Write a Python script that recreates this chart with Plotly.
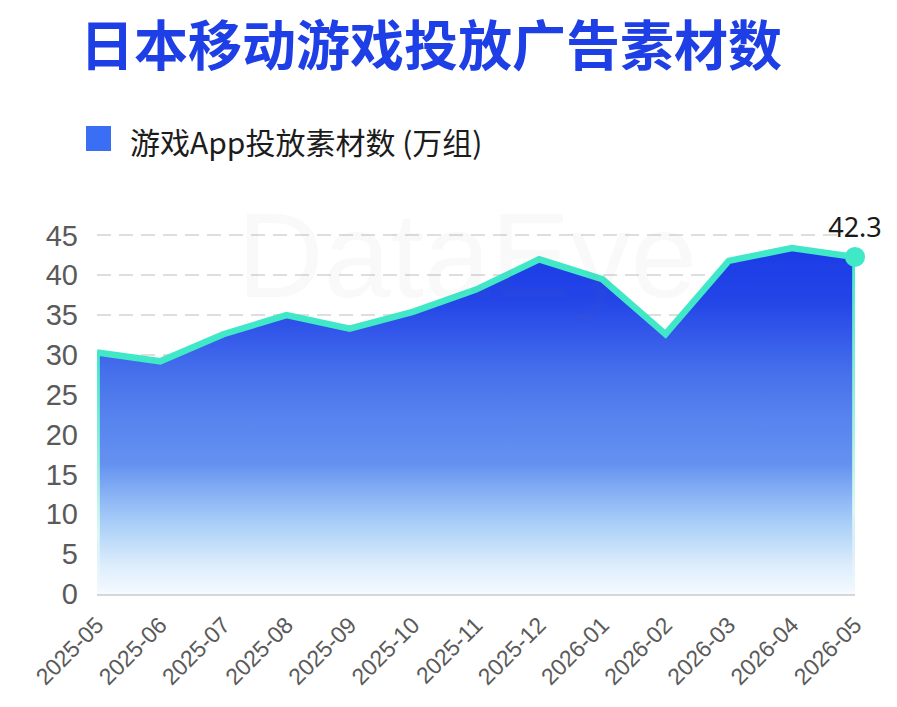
import plotly.graph_objects as go

# ---------------- data ----------------
months = ["2025-05", "2025-06", "2025-07", "2025-08", "2025-09", "2025-10", "2025-11",
          "2025-12", "2026-01", "2026-02", "2026-03", "2026-04", "2026-05"]
values = [30.3, 29.2, 32.6, 35.0, 33.3, 35.4, 38.2, 42.0, 39.5, 32.6, 41.8, 43.4, 42.3]
y_ticks = [0, 5, 10, 15, 20, 25, 30, 35, 40, 45]
series_name = "游戏App投放素材数 (万组)"
title_text = "日本移动游戏投放广告素材数"

# ---------------- style ----------------
W, H = 897, 707
ML, MR, MT, MB = 97, 42, 233, 113
LINE = "#40E8C8"
TITLE_BLUE = "#1E3FE6"
LEG_BLUE = "#3A6EF5"
TXT = "#5a5a5a"
FONT = "Liberation Sans, Arial, sans-serif"
CJK = "Noto Sans CJK SC"

idx = list(range(len(months)))
pw = W - ML - MR
ph = H - MT - MB


def px_x(px):
    return (px - ML) / pw


def px_y(py):
    return (H - MB - py) / ph


fig = go.Figure()

# gradient area
fig.add_trace(go.Scatter(
    x=idx, y=values, mode="lines", fill="tozeroy",
    line=dict(width=0, color="rgba(0,0,0,0)"),
    fillgradient=dict(
        type="vertical", start=0, stop=45,
        colorscale=[
            [0.0, "#F5FAFF"],
            [0.08, "#DCEDFC"],
            [0.2, "#A8CEF8"],
            [0.3, "#7FAAF3"],
            [0.36, "#6592F0"],
            [0.5, "#5582EE"],
            [0.62, "#4570EB"],
            [0.72, "#3459EA"],
            [0.82, "#2345E7"],
            [1.0, "#1A38E6"],
        ],
    ),
    hoverinfo="skip", showlegend=False,
))

# vertical edges (line fading to white)
edge_w = 0.045
for i in (idx[0], idx[-1]):
    v = values[i]
    fig.add_trace(go.Scatter(
        x=[i - edge_w, i + edge_w, i + edge_w, i - edge_w, i - edge_w],
        y=[0, 0, v, v, 0], mode="lines", fill="toself",
        line=dict(width=0, color="rgba(0,0,0,0)"),
        fillgradient=dict(
            type="vertical", start=0, stop=v,
            colorscale=[[0, "rgba(255,255,255,0)"], [0.25, "#DDF8F2"],
                        [0.6, "#8FEFDC"], [1, LINE]],
        ),
        hoverinfo="skip", showlegend=False,
    ))

# main line
fig.add_trace(go.Scatter(
    x=idx, y=values, mode="lines",
    line=dict(width=6.5, color=LINE, shape="linear"),
    hoverinfo="skip", showlegend=False,
))

# last point marker + label
fig.add_trace(go.Scatter(
    x=[idx[-1]], y=[values[-1]], mode="markers+text",
    marker=dict(size=20, color=LINE),
    text=[f"{values[-1]}"], textposition="top center",
    textfont=dict(size=27, color="#1a1a1a", family="Noto Sans, sans-serif"),
    cliponaxis=False, hoverinfo="skip", showlegend=False,
))

# watermark + legend text
annotations = [
    dict(text="DataEye", xref="paper", yref="paper",
         x=px_x(467), y=px_y(255), xanchor="center", yanchor="middle",
         showarrow=False,
         font=dict(size=120, color="rgba(120,120,120,0.045)", family=FONT)),
    dict(text=series_name, xref="paper", yref="paper",
         x=px_x(128), y=px_y(141), xanchor="left", yanchor="middle",
         showarrow=False,
         font=dict(size=30, color="#1c1c1c", family=CJK)),
]

shapes = [
    dict(type="rect", xref="paper", yref="paper",
         x0=px_x(86), x1=px_x(111), y0=px_y(151), y1=px_y(126),
         fillcolor=LEG_BLUE, line=dict(width=0), layer="above"),
]

fig.update_layout(
    width=W, height=H,
    margin=dict(l=ML, r=MR, t=MT, b=MB, pad=0),
    paper_bgcolor="white", plot_bgcolor="white",
    title=dict(text=f"<b>{title_text}</b>", x=80 / W, xanchor="left",
               y=1 - 47 / H, yanchor="middle",
               font=dict(size=54, color=TITLE_BLUE, family=CJK)),
    annotations=annotations, shapes=shapes,
    xaxis=dict(
        range=[0, len(months) - 1], tickmode="array", tickvals=idx, ticktext=months,
        tickangle=-45, showgrid=False, zeroline=False, showline=False,
        ticks="", ticklabelstandoff=12,
        tickfont=dict(size=23, color=TXT, family=FONT),
    ),
    yaxis=dict(
        range=[0, 45.3], tickmode="array", tickvals=y_ticks,
        showgrid=True, gridcolor="#DEDEDE", gridwidth=1.5, griddash="14px,8px",
        zeroline=True, zerolinecolor="#D3D6DA", zerolinewidth=2.5,
        showline=False, ticks="", ticklabelstandoff=18,
        tickfont=dict(size=29, color=TXT, family=FONT),
    ),
)

fig.write_html("out.html")
